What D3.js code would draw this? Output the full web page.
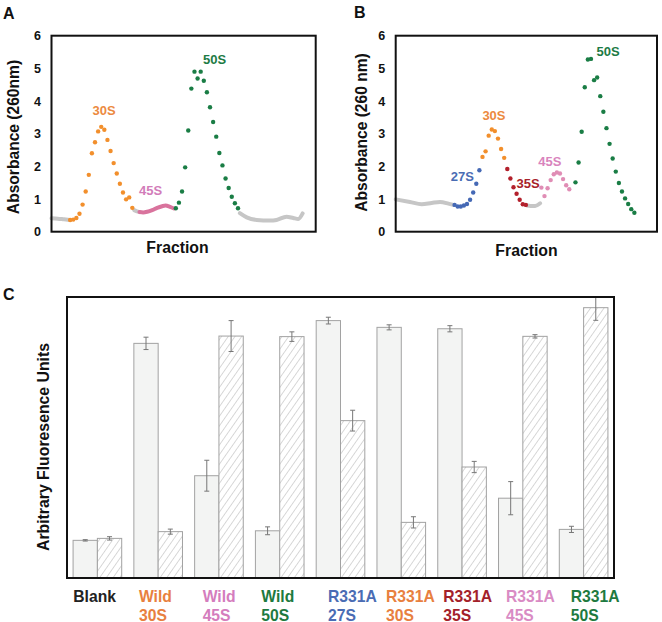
<!DOCTYPE html>
<html><head><meta charset="utf-8">
<script src="https://cdn.jsdelivr.net/npm/d3@7"></script>
<style>body{margin:0;background:#fff}svg{display:block}</style>
</head><body>
<svg id="c" width="662" height="622"></svg>
<script>
// ---------------- DATA ----------------
// Panel A (wild type profile): [fraction, absorbance]
const aGrayTraces = [
  [[0,0.41],[2,0.40],[4,0.38],[6,0.36]],
  [[26.6,0.66],[27.5,0.62],[28.3,0.60]],
  [[60.6,0.57],[62.8,0.44],[66,0.36],[70.3,0.34],[72.4,0.36],[75.6,0.46],[77.8,0.42],[79.4,0.39],[80.8,0.56]]
];
const aPinkTrace = [[28.3,0.60],[29.5,0.59],[30.8,0.61],[32.4,0.66],[34,0.73],[35.6,0.78],[36.7,0.80],[38.1,0.76],[39.4,0.71]];
const aOrangeStart = 6;
const aOrange = [0.36,0.37,0.42,0.55,0.83,1.23,1.74,2.40,2.74,3.07,3.21,3.12,2.81,2.47,2.10,1.78,1.47,1.20,0.99,1.05,0.73];
const aGreenStart = 40;
const aGreen = [0.72,0.89,1.23,1.97,3.10,4.38,4.90,4.69,4.90,4.62,4.27,3.81,3.36,2.91,2.41,2.03,1.63,1.34,1.07,0.87,0.72];
const aLabels = [
  {t:"30S", f:16.9, v:3.56, c:"#ec8a3f"},
  {t:"45S", f:31.9, v:1.11, c:"#d27cb9"},
  {t:"50S", f:52.5, v:5.12, c:"#1d7b45"}
];

// Panel B (R331A profile)
const bGrayTraces = [
  [[0,0.99],[4.6,0.91],[8.4,0.84],[11.6,0.88],[14.3,0.91],[17,0.86],[18.6,0.82]],
  [[42.3,0.80],[43.5,0.79],[45,0.79],[46.6,0.87]]
];
const bBlueStart = 19;
const bBlue = [0.82,0.77,0.77,0.80,0.85,0.98,1.20,1.47,1.88];
const bOrangeStart = 28;
const bOrange = [2.29,2.46,2.94,3.13,3.08,2.85,2.53,2.26];
const bRedStart = 36;
const bRed = [1.92,1.63,1.36,1.16,0.98,0.84,0.82];
const bPinkStart = 47;
const bPink = [1.35,1.09,1.33,1.58,1.76,1.81,1.78,1.61,1.42,1.30];
const bGreenStart = 58;
const bGreen = [1.51,2.12,3.06,4.42,5.27,5.29,4.64,4.72,4.15,3.67,3.17,2.69,2.24,1.84,1.49,1.23,1.02,0.85,0.69,0.58];
const bLabels = [
  {t:"27S", f:21.5, v:1.54, c:"#4a6cb4"},
  {t:"30S", f:31.7, v:3.42, c:"#ec8a3f"},
  {t:"35S", f:42.7, v:1.34, c:"#a8222a"},
  {t:"45S", f:49.7, v:2.01, c:"#d984bd"},
  {t:"50S", f:68.5, v:5.39, c:"#1d7b45"}
];
const absTicks = [0,1,2,3,4,5,6];

// Panel C (fluorescence)
const cGroups = ["Blank","Wild 30S","Wild 45S","Wild 50S","R331A 27S","R331A 30S","R331A 35S","R331A 45S","R331A 50S"];
const cLine1 = ["Blank","Wild","Wild","Wild","R331A","R331A","R331A","R331A","R331A"];
const cLine2 = ["","30S","45S","50S","27S","30S","35S","45S","50S"];
const cLabelColors = ["#222222","#e8803f","#d47dbd","#1e7a3f","#4a6cb4","#e8803f","#a3212a","#d98bc4","#1e7a3f"];
const solidVals = [13.4,83.5,36.4,16.8,91.6,89.2,88.7,28.4,17.3];
const solidErr  = [0.25,2.2,5.5,1.4,1.2,0.9,1.1,5.9,1.1];
const hatchVals = [14.1,16.5,86.1,85.9,56.0,19.8,39.5,86.0,96.2];
const hatchErr  = [0.6,0.9,5.5,1.7,3.7,2.0,2.0,0.6,4.5];

// ---------------- DRAW ----------------
const F = "'Liberation Sans', Arial, Helvetica, sans-serif";
const svg = d3.select("#c");
const colors = {gray:"#c6c6c6", orange:"#f28f2c", pink:"#d9739d", green:"#1a7d45",
                blue:"#4569b5", red:"#b3202c", pinkB:"#e08db5"};

function profile(cfg) {
  const x = d3.scaleLinear().domain([0, cfg.xmax]).range([cfg.left, cfg.right]);
  const y = d3.scaleLinear().domain([0, 6]).range([cfg.bottom, cfg.top]);
  const g = svg.append("g");
  const line = d3.line().x(d => x(d[0])).y(d => y(d[1])).curve(d3.curveMonotoneX);
  cfg.traces.forEach(t => {
    g.append("path").attr("d", line(t.pts)).attr("fill","none")
      .attr("stroke", t.color).attr("stroke-width", 4)
      .attr("stroke-linecap","round").attr("stroke-linejoin","round");
  });
  cfg.dots.forEach(s => {
    g.append("g").selectAll("circle").data(s.vals).join("circle")
      .attr("cx", (d,i) => x(s.start + i)).attr("cy", d => y(d))
      .attr("r", 2.2).attr("fill", s.color);
  });
  g.append("g").selectAll("text").data(cfg.labels).join("text")
    .attr("x", d => x(d.f)).attr("y", d => y(d.v))
    .attr("text-anchor","middle").attr("font-family",F).attr("font-weight","bold")
    .attr("font-size",13).attr("fill", d => d.c).text(d => d.t);
  const ax = g.append("g").attr("transform",`translate(${cfg.left},0)`)
    .call(d3.axisLeft(y).tickValues(absTicks).tickSize(0).tickPadding(10.5).tickFormat(d3.format("d")));
  ax.select(".domain").remove();
  ax.selectAll("text").attr("font-family",F).attr("font-weight","bold").attr("font-size",12.5).attr("fill","#111");
  g.append("rect").attr("x",cfg.left).attr("y",cfg.top)
    .attr("width",cfg.right-cfg.left).attr("height",cfg.bottom-cfg.top)
    .attr("fill","none").attr("stroke","#111").attr("stroke-width",2);
  g.append("text").attr("transform",`translate(${cfg.ylx},${cfg.yly}) rotate(-90)`)
    .attr("text-anchor","middle").attr("font-family",F).attr("font-weight","bold")
    .attr("font-size",15.6).attr("fill","#111").text(cfg.ylabel);
  g.append("text").attr("x",cfg.fx).attr("y",cfg.fy).attr("text-anchor","middle")
    .attr("font-family",F).attr("font-weight","bold").attr("font-size",15.8).attr("fill","#111").text("Fraction");
  g.append("text").attr("x",cfg.lx).attr("y",cfg.ly).attr("font-family",F).attr("font-weight","bold")
    .attr("font-size",16).attr("fill","#111").text(cfg.letter);
}

profile({
  left:51.5, right:315.7, top:35.7, bottom:231.7, xmax:85,
  traces: aGrayTraces.map(p => ({pts:p, color:colors.gray})).concat([{pts:aPinkTrace, color:colors.pink}]),
  dots: [{start:aOrangeStart, vals:aOrange, color:colors.orange},{start:aGreenStart, vals:aGreen, color:colors.green}],
  labels: aLabels, ylabel:"Absorbance (260nm)", ylx:18.5, yly:137, fx:177.5, fy:253, letter:"A", lx:3, ly:18.5
});
profile({
  left:395.7, right:657, top:35.7, bottom:231.7, xmax:84.3,
  traces: bGrayTraces.map(p => ({pts:p, color:colors.gray})),
  dots: [{start:bBlueStart, vals:bBlue, color:colors.blue},{start:bOrangeStart, vals:bOrange, color:colors.orange},
         {start:bRedStart, vals:bRed, color:colors.red},{start:bPinkStart, vals:bPink, color:colors.pinkB},
         {start:bGreenStart, vals:bGreen, color:colors.green}],
  labels: bLabels, ylabel:"Absorbance (260 nm)", ylx:367, yly:132.5, fx:526.5, fy:256, letter:"B", lx:354, ly:18
});

// Panel C
const defs = svg.append("defs");
const pat = defs.append("pattern").attr("id","hatch").attr("patternUnits","userSpaceOnUse")
  .attr("width",5.5).attr("height",5.5).attr("patternTransform","rotate(35)");
pat.append("rect").attr("width",5.5).attr("height",5.5).attr("fill","#fff");
pat.append("line").attr("x1",0).attr("y1",0).attr("x2",0).attr("y2",5.5).attr("stroke","#a8a8a8").attr("stroke-width",0.9);

const cL = 67, cR = 614, cT = 297, cB = 578;
const xg = d3.scaleBand().domain(cGroups).range([cL, cR]).paddingInner(0.2).paddingOuter(0.1);
const xs = d3.scaleBand().domain(["solid","hatch"]).range([0, xg.bandwidth()]);
const yC = d3.scaleLinear().domain([0,100]).range([cB, cT]);

const cg = svg.append("g");
const series = [
  {key:"solid", vals:solidVals, err:solidErr, fill:"#f3f4f3"},
  {key:"hatch", vals:hatchVals, err:hatchErr, fill:"url(#hatch)"}
];
series.forEach(s => {
  const gg = cg.append("g");
  gg.selectAll("rect").data(s.vals).join("rect")
    .attr("x", (d,i) => xg(cGroups[i]) + xs(s.key)).attr("width", xs.bandwidth())
    .attr("y", d => yC(d)).attr("height", d => yC(0) - yC(d))
    .attr("fill", s.fill).attr("stroke","#a2a2a2").attr("stroke-width",1);
  const eg = gg.selectAll("g.e").data(s.vals).join("g").attr("class","e");
  const cx = (i) => xg(cGroups[i]) + xs(s.key) + xs.bandwidth()/2;
  eg.append("line").attr("x1",(d,i)=>cx(i)).attr("x2",(d,i)=>cx(i))
    .attr("y1",(d,i)=>Math.max(cT, yC(d + s.err[i]))).attr("y2",(d,i)=>yC(d - s.err[i]));
  eg.append("line").attr("x1",(d,i)=>cx(i)-2.5).attr("x2",(d,i)=>cx(i)+2.5)
    .attr("y1",(d,i)=>yC(d + s.err[i])).attr("y2",(d,i)=>yC(d + s.err[i]))
    .attr("display",(d,i)=> yC(d + s.err[i]) < cT ? "none" : null);
  eg.append("line").attr("x1",(d,i)=>cx(i)-2.5).attr("x2",(d,i)=>cx(i)+2.5)
    .attr("y1",(d,i)=>yC(d - s.err[i])).attr("y2",(d,i)=>yC(d - s.err[i]));
  eg.selectAll("line").attr("stroke","#777").attr("stroke-width",1);
});
cg.append("rect").attr("x",cL).attr("y",cT).attr("width",cR-cL).attr("height",cB-cT)
  .attr("fill","none").attr("stroke","#111").attr("stroke-width",2);

// category labels (left-aligned in the original, small per-label nudges)
const labelNudge = [0.2,5.1,8.0,5.9,11.8,9.0,5.5,7.4,11.4];
const lab = cg.append("g").selectAll("text").data(cGroups).join("text")
  .attr("font-family",F).attr("font-weight","bold").attr("font-size",15.7)
  .attr("fill",(d,i)=>cLabelColors[i]);
lab.append("tspan").attr("x",(d,i)=>xg(d)+labelNudge[i]).attr("y",601.5).text((d,i)=>cLine1[i]);
lab.append("tspan").attr("x",(d,i)=>xg(d)+labelNudge[i]).attr("y",620.5).text((d,i)=>cLine2[i]);

cg.append("text").attr("transform",`translate(48.5,447) rotate(-90)`).attr("text-anchor","middle")
  .attr("font-family",F).attr("font-weight","bold").attr("font-size",15.8).attr("fill","#111")
  .text("Arbitrary Fluoresence Units");
cg.append("text").attr("x",3).attr("y",300).attr("font-family",F).attr("font-weight","bold")
  .attr("font-size",16).attr("fill","#111").text("C");
</script>
</body></html>
